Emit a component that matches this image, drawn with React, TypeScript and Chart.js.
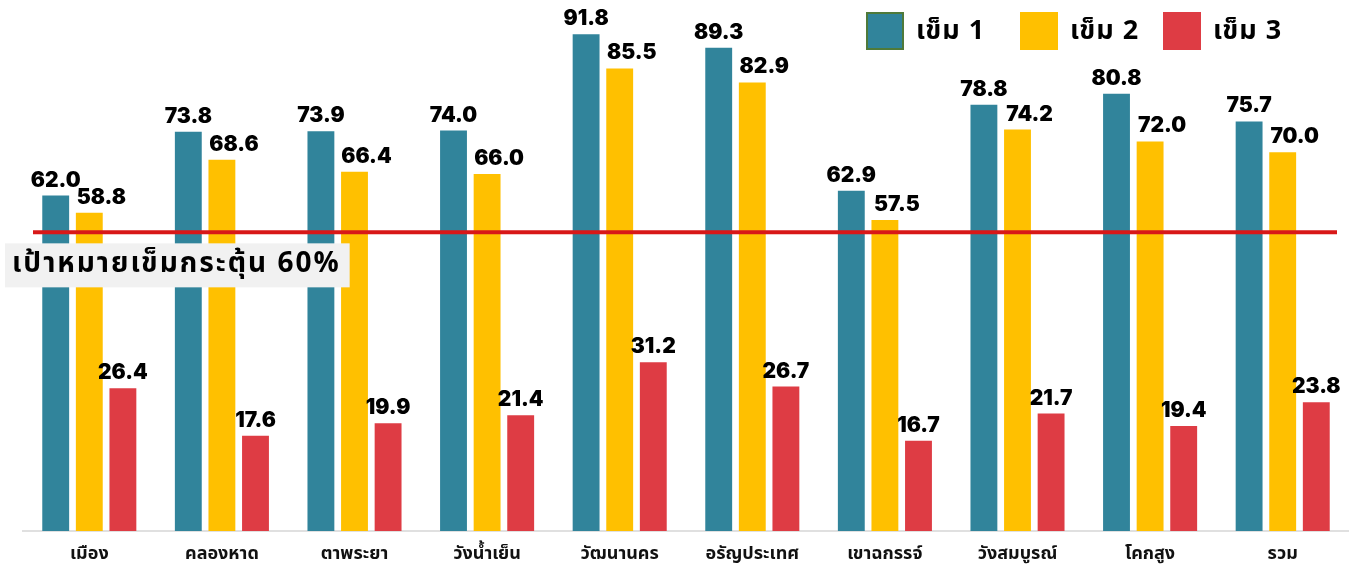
import React, { useEffect, useRef } from "react";
import { Chart, registerables } from "chart.js";

Chart.register(...registerables);

const categories = ["เมือง", "คลองหาด", "ตาพระยา", "วังน้ำเย็น", "วัฒนานคร", "อรัญประเทศ", "เขาฉกรรจ์", "วังสมบูรณ์", "โคกสูง", "รวม"];
const dose1 = [62.0, 73.8, 73.9, 74.0, 91.8, 89.3, 62.9, 78.8, 80.8, 75.7];
const dose2 = [58.8, 68.6, 66.4, 66.0, 85.5, 82.9, 57.5, 74.2, 72.0, 70.0];
const dose3 = [26.4, 17.6, 19.9, 21.4, 31.2, 26.7, 16.7, 21.7, 19.4, 23.8];
const seriesNames = ["เข็ม 1", "เข็ม 2", "เข็ม 3"];
const targetLabel = "เป้าหมายเข็มกระตุ้น 60%";
// the target line sits where it is drawn in the reference picture
const targetLineValue = 55.2;

const COLORS = ["#31849B", "#FFC000", "#DE3C44"];
const THAI = '"Noto Sans Thai", "Noto Sans", "DejaVu Sans", sans-serif';
const NUM = 'Inter, "DejaVu Sans", sans-serif';

const overlayPlugin = {
  id: "overlay",
  afterDatasetsDraw(chart: any) {
    const { ctx, chartArea, scales } = chart;
    ctx.save();
    // data labels
    chart.data.datasets.forEach((ds: any, di: number) => {
      const meta = chart.getDatasetMeta(di);
      const dx = di === 1 ? 12 : 0;
      meta.data.forEach((bar: any, i: number) => {
        ctx.font = `900 21px ${NUM}`;
        ctx.fillStyle = "#000";
        ctx.textAlign = "center";
        ctx.textBaseline = "alphabetic";
        ctx.fillText(Number(ds.data[i]).toFixed(1), bar.x + dx, bar.y - 9);
      });
    });
    // target line
    const y = scales.y.getPixelForValue(targetLineValue);
    ctx.strokeStyle = "#D81818";
    ctx.lineWidth = 4;
    ctx.beginPath();
    ctx.moveTo(chartArea.left + 10, y);
    ctx.lineTo(chartArea.right - 12, y);
    ctx.stroke();
    // target label box
    ctx.font = `bold 28px ${THAI}`;
    (ctx as any).letterSpacing = "2px";
    const tw = ctx.measureText(targetLabel).width;
    ctx.fillStyle = "#F1F1F1";
    ctx.fillRect(5, y + 11, tw + 16, 44);
    ctx.fillStyle = "#000";
    ctx.textAlign = "left";
    ctx.textBaseline = "middle";
    ctx.fillText(targetLabel, 12, y + 34);
    (ctx as any).letterSpacing = "1px";
    // legend
    const lx = [866, 1020, 1163];
    chart.data.datasets.forEach((ds: any, di: number) => {
      ctx.fillStyle = ds.backgroundColor;
      ctx.fillRect(lx[di], 12, 38, 38);
      if (di === 0) {
        ctx.strokeStyle = "#4F7A3A";
        ctx.lineWidth = 2;
        ctx.strokeRect(lx[di] + 1, 13, 36, 36);
      }
      ctx.fillStyle = "#000";
      ctx.font = `bold 27px ${THAI}`;
      ctx.textAlign = "left";
      ctx.textBaseline = "middle";
      ctx.fillText(ds.label, lx[di] + 50, 34);
    });
    ctx.restore();
  },
};

export default function App() {
  const ref = useRef<HTMLCanvasElement | null>(null);
  useEffect(() => {
    if (!ref.current) return;
    const chart = new Chart(ref.current, {
      type: "bar",
      data: {
        labels: categories,
        datasets: [dose1, dose2, dose3].map((d, i) => ({
          label: seriesNames[i],
          data: d,
          backgroundColor: COLORS[i],
          borderWidth: 0,
          barPercentage: 0.8,
          categoryPercentage: 0.76,
        })),
      },
      options: {
        animation: false,
        responsive: true,
        maintainAspectRatio: false,
        layout: { padding: { left: 23, right: 0, top: 17, bottom: 0 } },
        plugins: {
          legend: { display: false },
          tooltip: { enabled: false },
        },
        scales: {
          x: {
            grid: { display: false, drawTicks: false },
            border: { display: true, color: "#E0E0E0", width: 2 },
            ticks: {
              color: "#111",
              padding: 14,
              font: { family: THAI, size: 18, weight: "bold" },
              maxRotation: 0,
            },
            afterFit: (scale: any) => {
              scale.height = 39;
            },
          },
          y: { display: false, min: 0, max: 95 },
        },
      },
      plugins: [overlayPlugin],
    });
    return () => chart.destroy();
  }, []);
  return (
    <div style={{ position: "fixed", left: 0, top: 0, width: 1349, height: 570, background: "#fff" }}>
      <canvas ref={ref} />
    </div>
  );
}
